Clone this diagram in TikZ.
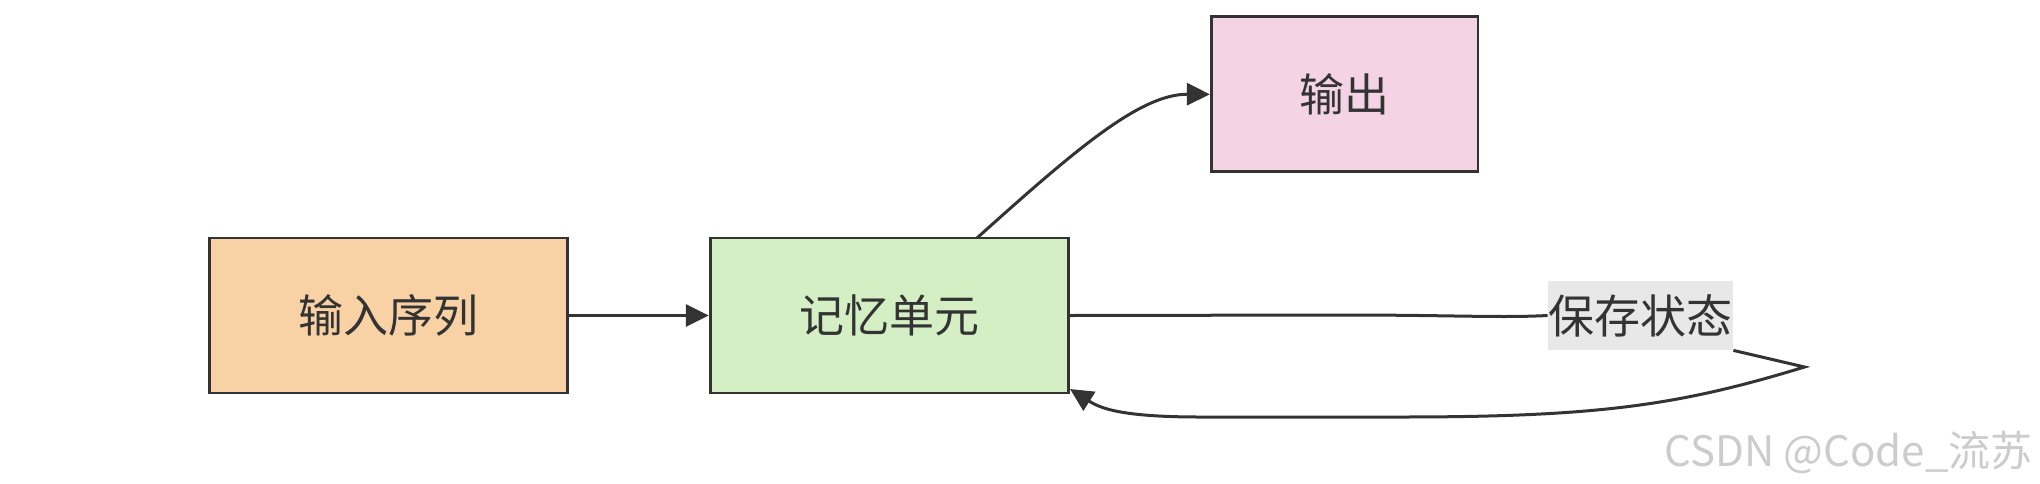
\documentclass[tikz,border=0pt]{standalone}
\usepackage{fontspec}
\newfontfamily\cjk{Noto Sans CJK SC}
\usetikzlibrary{arrows.meta}
\definecolor{edge}{HTML}{333333}
\definecolor{inF}{HTML}{F8D1A5}
\definecolor{memF}{HTML}{D5EFC5}
\definecolor{outF}{HTML}{F4D4E4}
\definecolor{lblF}{HTML}{E8E8E8}
\definecolor{wm}{HTML}{CCCCCC}
\tikzset{
  box/.style={draw=edge, line width=1.4pt, minimum width=179pt, minimum height=77.5pt,
    inner sep=0pt, font=\cjk\fontsize{22.5}{27}\selectfont, text=edge},
  conn/.style={draw=edge, line width=1.5pt},
  arr/.style={conn, -{Triangle[length=11.5pt,width=11pt]}},
}
\begin{document}
\begin{tikzpicture}[x=0.5pt,y=-0.5pt]
\useasboundingbox (0,0) rectangle (2040,483);
\node[box, fill=inF] (in) at (388.4,315.5) {输入序列};
\node[box, fill=memF] (mem) at (889.2,315.5) {记忆单元};
\node[box, fill=outF, minimum width=133.3pt] (out) at (1344.6,94.3) {输出};
\node[fill=lblF, inner sep=0pt, minimum width=92.5pt, minimum height=34.5pt,
  font=\cjk\fontsize{23}{27}\selectfont, text=edge] (lbl) at (1640.5,315.5) {保存状态};
\coordinate (loop) at (1804.5,367);
\coordinate (mid) at (1344,315);
\coordinate (bot) at (1400,417);
\node[anchor=south east, inner sep=0pt, text=wm, font=\cjk\fontsize{21}{24}\selectfont] (wmk) at (2033,474) {CSDN @Code\_流苏};
\draw[arr] (in.east) -- (mem.west);
\draw[arr] (977,238) .. controls (1075,150) and (1140,94) .. (out.west);
\draw[conn] (mem.east) -- (mid) .. controls (1450,315) and (1500,318) .. (lbl.west);
\draw[conn] (lbl.south east) -- (loop) .. controls (1680,405) and (1600,417) .. (bot);
\draw[arr] (bot) -- (1200,417) .. controls (1120,417) and (1100,408) .. (1070,389);
\end{tikzpicture}
\end{document}
